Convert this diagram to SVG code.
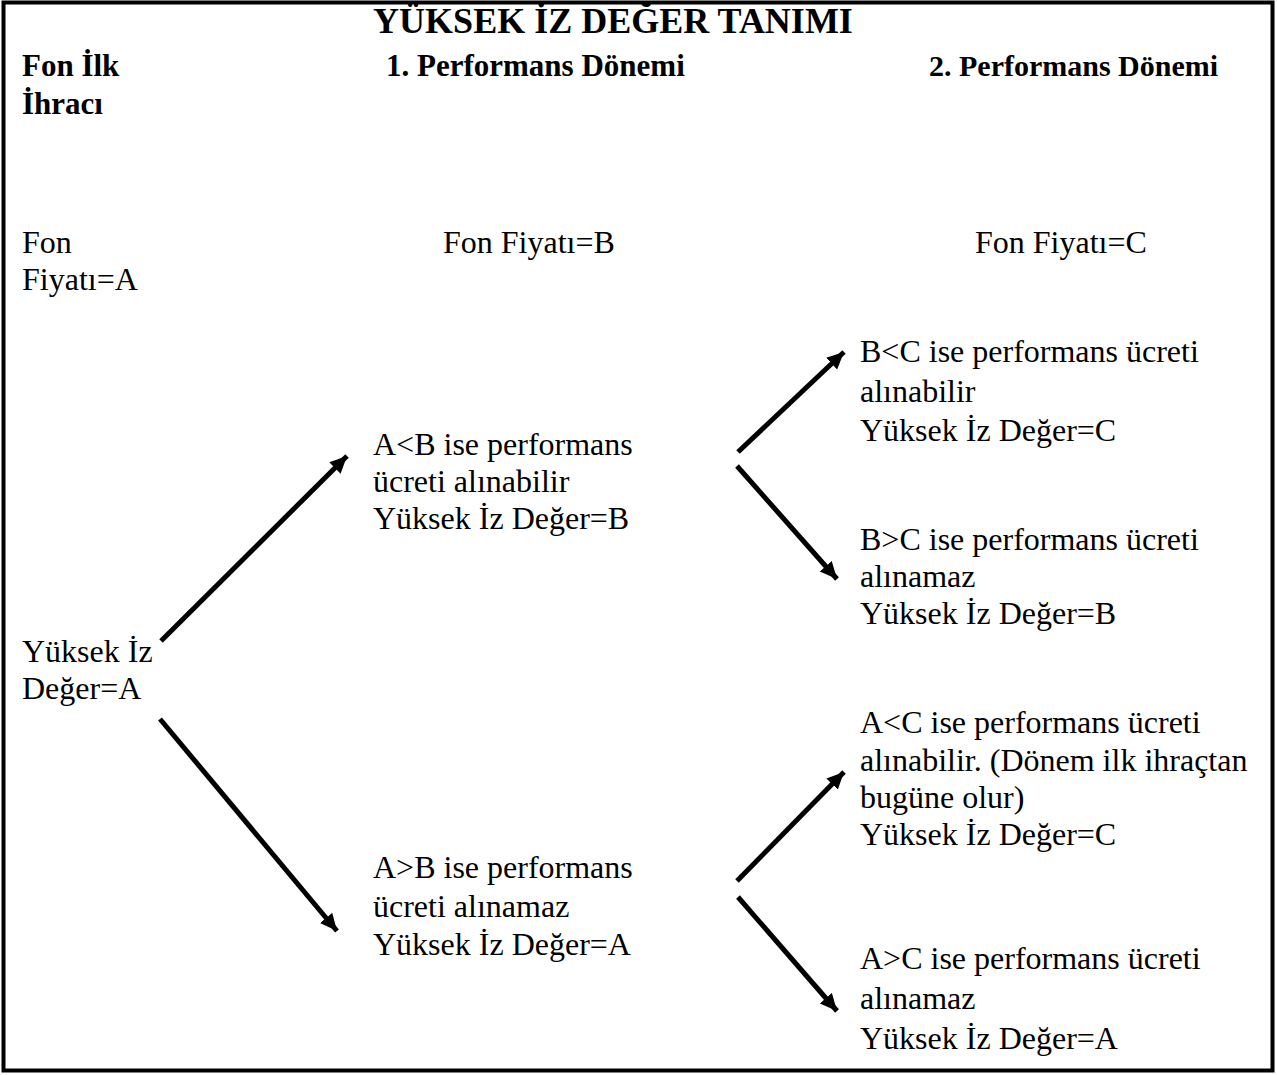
<svg xmlns="http://www.w3.org/2000/svg" width="1277" height="1075" viewBox="0 0 1277 1075">
<style>
.t{font-family:"Liberation Serif","Times New Roman",serif;font-size:32px;fill:#000}
.b{font-family:"Liberation Serif","Times New Roman",serif;font-size:31px;font-weight:bold;fill:#000}
.c{stroke:#000;stroke-width:5;fill:none}
</style>
<defs>
<marker id="ah" markerUnits="userSpaceOnUse" markerWidth="20" markerHeight="18" refX="17" refY="8" orient="auto">
<path d="M0,0 L17,8 L0,16 z" fill="#000"/>
</marker>
</defs>
<rect x="3.5" y="2.5" width="1269" height="1068" fill="#fff" stroke="#000" stroke-width="4"/>
<g id="title"><text class="b" x="613" y="33" text-anchor="middle" style="font-size:36px">YÜKSEK İZ DEĞER TANIMI</text></g>
<g id="h0"><text class="b" x="22" y="76">Fon İlk</text><text class="b" x="22" y="114">İhracı</text></g>
<g id="h1"><text class="b" x="386" y="76">1. Performans Dönemi</text></g>
<g id="h2"><text class="b" x="929" y="76" style="font-size:30px">2. Performans Dönemi</text></g>
<g id="p0"><text class="t" x="22" y="253">Fon</text><text class="t" x="22" y="290">Fiyatı=A</text></g>
<g id="p1"><text class="t" x="443" y="253">Fon Fiyatı=B</text></g>
<g id="p2"><text class="t" x="975" y="253">Fon Fiyatı=C</text></g>
<g id="n0"><text class="t" x="22" y="662">Yüksek İz</text><text class="t" x="22" y="699">Değer=A</text></g>
<g id="n1"><text class="t" x="373" y="455">A&lt;B ise performans</text><text class="t" x="373" y="492">ücreti alınabilir</text><text class="t" x="373" y="529">Yüksek İz Değer=B</text></g>
<g id="n2"><text class="t" x="373" y="878">A&gt;B ise performans</text><text class="t" x="373" y="917">ücreti alınamaz</text><text class="t" x="373" y="955">Yüksek İz Değer=A</text></g>
<g id="n3"><text class="t" x="860" y="362">B&lt;C ise performans ücreti</text><text class="t" x="860" y="402">alınabilir</text><text class="t" x="860" y="441">Yüksek İz Değer=C</text></g>
<g id="n4"><text class="t" x="860" y="550">B&gt;C ise performans ücreti</text><text class="t" x="860" y="587">alınamaz</text><text class="t" x="860" y="624">Yüksek İz Değer=B</text></g>
<g id="n5"><text class="t" x="860" y="733">A&lt;C ise performans ücreti</text><text class="t" x="860" y="771">alınabilir. (Dönem ilk ihraçtan</text><text class="t" x="860" y="808">bugüne olur)</text><text class="t" x="860" y="845">Yüksek İz Değer=C</text></g>
<g id="n6"><text class="t" x="860" y="969">A&gt;C ise performans ücreti</text><text class="t" x="860" y="1009">alınamaz</text><text class="t" x="860" y="1049">Yüksek İz Değer=A</text></g>
<g id="connectors">
<line class="c" x1="161" y1="641" x2="347" y2="456" marker-end="url(#ah)"/>
<line class="c" x1="160" y1="719" x2="337" y2="931" marker-end="url(#ah)"/>
<line class="c" x1="738" y1="452" x2="844" y2="352" marker-end="url(#ah)"/>
<line class="c" x1="737" y1="466" x2="837" y2="579" marker-end="url(#ah)"/>
<line class="c" x1="737" y1="881" x2="844" y2="772" marker-end="url(#ah)"/>
<line class="c" x1="738" y1="897" x2="837" y2="1011" marker-end="url(#ah)"/>
</g>
</svg>
